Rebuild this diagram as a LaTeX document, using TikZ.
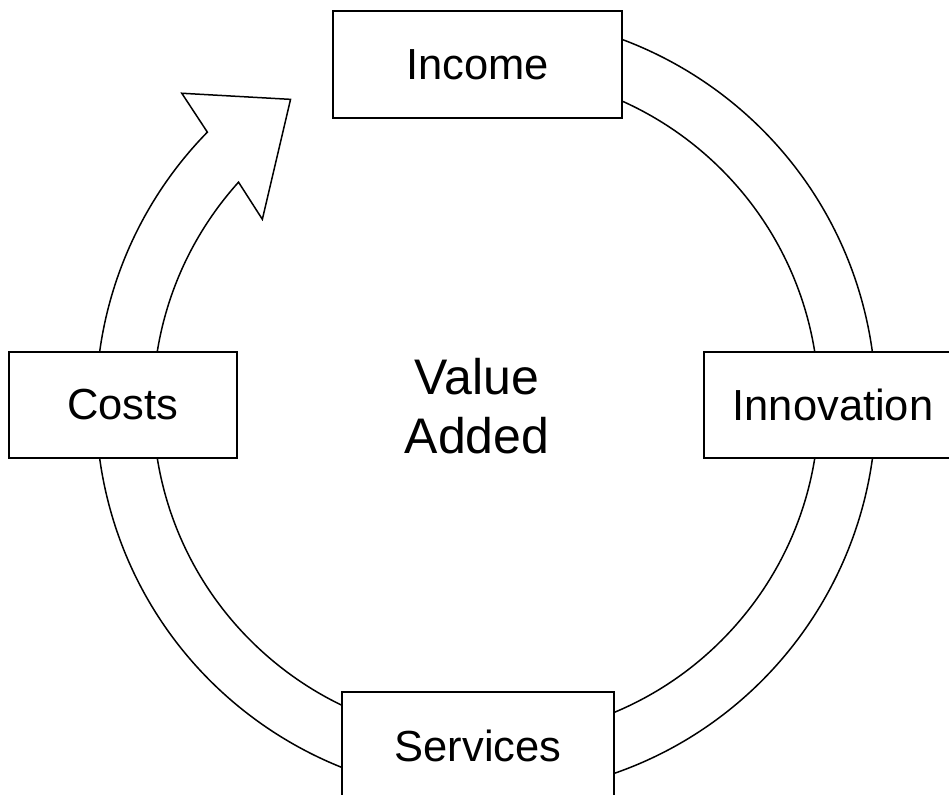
\documentclass[tikz,border=0pt]{standalone}
\usepackage{fontspec}
\setmainfont{Liberation Sans}
\begin{document}
\begin{tikzpicture}
    [
    x=1pt, y=1pt,
    block/.style={
      draw,
      fill=white,
      line width=1.3pt,
      inner sep=0pt,
      font=\fontsize{43.5}{52}\selectfont
    },
    ring/.style={
      draw,
      fill=white,
      line width=1.5pt,
      line join=miter
    }]
    \useasboundingbox (0,0) rectangle (949,794);
    \clip (0,0) rectangle (949,794);
    % ring with arrow head, centre of the cycle
    \coordinate (centre) at (486,389);
    \begin{scope}[shift={(centre)}]
      \path[ring] (100:390) arc[start angle=100, end angle=-224.4, radius=390]
        -- (134.3:435.6) -- (122.6:362.8) -- (140.3:290.7)
        -- (138:333) arc[start angle=-222, end angle=100, radius=333]
        -- cycle;
    \end{scope}
    % the four stations
    \node (income) at (477.5,729.5) [block, minimum width=289pt, minimum height=107pt] {Income};
    \node (innovation) at (833,389) [block, minimum width=258pt, minimum height=106pt] {Innovation};
    \node (services) at (478,48.5) [block, minimum width=272pt, minimum height=107pt] {Services};
    \node (costs) at (123,389) [block, minimum width=228pt, minimum height=106pt] {Costs};
    \node (value) at (477,388) [align=center, font=\fontsize{50}{59}\selectfont] {Value\\Added};
  \end{tikzpicture}
\end{document}
